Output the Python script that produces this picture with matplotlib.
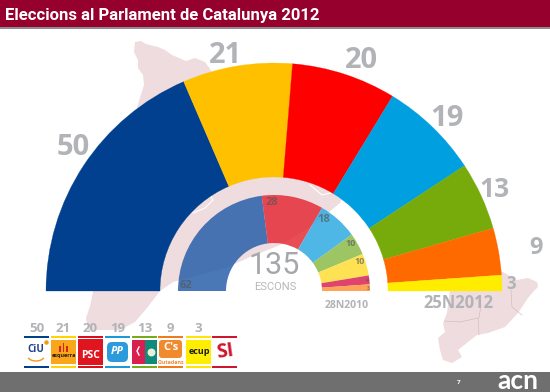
import matplotlib
matplotlib.use("Agg")
import matplotlib.pyplot as plt
from matplotlib.patches import Wedge, Polygon, Rectangle, FancyBboxPatch, Arc

# seats
seats_2012 = [50, 21, 20, 19, 13, 9, 3]
colors_2012 = ["#00408f", "#ffc000", "#ff0000", "#009fdf", "#76ab0b", "#ff6a00", "#ffed00"]
seats_2010 = [62, 28, 18, 10, 10, 4, 3]
colors_2010 = ["#2a60ab", "#e52c37", "#2fabe2", "#8cbb48", "#ffdd35", "#d82452", "#ff9438"]
logo_seats = ["50", "21", "20", "19", "13", "9", "3", ""]
logo_bars = ["#00408f", "#ffd400", "#d8101c", "#1c9ad6", "#76ab1b", "#f07a1c", "#ffe600", "#cf1530"]

total = 135
cx, cy = 274, 291
grey = "#b1b3b7"
font = "Open Sans"

# background map
map_left = [(135, 42), (141, 41), (146, 44), (158, 47), (165, 50), (172, 55), (186, 61), (195, 58),
            (205, 62), (212, 72), (260, 110), (345, 190), (340, 203), (317, 222), (297, 235), (280, 245),
            (250, 257), (226, 268), (173, 282), (160, 291), (147, 308), (135, 322), (120, 330), (88, 330),
            (86, 318), (90, 306), (93, 292), (110, 200), (139, 101), (144, 85), (143, 75), (138, 68),
            (138, 60), (134, 52)]
map_right = [(460, 270), (503, 272), (517, 280), (528, 278), (537, 282), (538, 287), (533, 292), (528, 298),
             (518, 313), (505, 327), (488, 333), (477, 335), (468, 342), (458, 350), (462, 357), (452, 363),
             (443, 360), (440, 350), (438, 338), (445, 332), (443, 323), (447, 313), (448, 305), (450, 290)]
map_lines = [[(445, 321), (460, 322), (478, 318), (479, 335)], [(479, 318), (481, 305)],
             [(511, 290), (512, 307), (522, 315)]]
ring_lines = [[(193, 213), (205, 208), (213, 200), (210, 195)], [(310, 185), (322, 195), (335, 192)]]

fig = plt.figure(figsize=(5.5, 3.92), dpi=100)
ax = fig.add_axes([0, 0, 1, 1])
ax.set_xlim(0, 550)
ax.set_ylim(392, 0)
ax.axis("off")

ax.add_patch(Polygon(map_left, fc="#eedcde", ec="none", zorder=1))
ax.add_patch(Polygon(map_right, fc="#eedcde", ec="none", zorder=1))
for line in map_lines:
    ax.plot([p[0] for p in line], [p[1] for p in line], c="#c9b9bb", lw=0.4, zorder=1.1)
for line in ring_lines:
    ax.plot([p[0] for p in line], [p[1] for p in line], c="white", lw=0.8, zorder=1.2)

# 2012 hemicycle (y axis is flipped, so 180-360 is the upper half)
theta = 180
for v, c in zip(seats_2012, colors_2012):
    ax.add_patch(Wedge((cx, cy), 228, theta, theta + v / total * 180, width=114, fc=c, ec=c, lw=0.2, zorder=2))
    theta += v / total * 180

# 2010 hemicycle
theta = 180
for v, c in zip(seats_2010, colors_2010):
    ax.add_patch(Wedge((cx, cy), 96, theta, theta + v / total * 180, width=48, fc=c, ec="none", alpha=0.85, zorder=2))
    theta += v / total * 180

big_pos = [(73, 147), (226, 55), (361, 60), (447, 118), (494, 189), (536, 248), (511, 284)]
big_size = [21, 21, 21, 21, 19, 17, 12]
for v, p, s in zip(seats_2012, big_pos, big_size):
    ax.text(p[0], p[1], str(v), color=grey, fontsize=s, fontweight="bold", family=font, ha="center", va="center", zorder=3)

small_pos = [(186, 286), (272, 202), (324, 219), (351, 243), (360, 262), (368, 281), (368, 288)]
small_size = [8, 8, 8, 6.5, 6.5, 4, 3.5]
for v, p, s in zip(seats_2010, small_pos, small_size):
    ax.text(p[0], p[1], str(v), color="#555555", alpha=0.65, fontsize=s, fontweight="bold", family=font, ha="center", va="center", zorder=3)

ax.text(274, 265, "135", color="#a5a7ab", fontsize=22, family="Roboto", ha="center", va="center", zorder=3)
ax.text(275, 287.5, "ESCONS", color="#b5b7ba", fontsize=8, family="Roboto", ha="center", va="center", zorder=3)
ax.text(347, 306, "28N2010", color=grey, fontsize=7.5, fontweight="bold", family=font, ha="center", va="center", zorder=3)
ax.text(458, 303, "25N2012", color=grey, fontsize=12, fontweight="bold", family=font, ha="center", va="center", zorder=3)

# header
ax.add_patch(Rectangle((0, 0), 550, 27, fc="#96002d", ec="none", zorder=5))
ax.add_patch(Rectangle((0, 27), 550, 2, fc="#8d8d8d", ec="none", zorder=5))
ax.text(5, 15, "Eleccions al Parlament de Catalunya 2012", color="white", fontsize=12, fontweight="bold", family="Roboto", ha="left", va="center", zorder=6)

# footer
ax.add_patch(Rectangle((0, 372), 550, 20, fc="#6f6f6f", ec="none", zorder=5))
ax.text(459, 383, "7", color="white", fontsize=4.5, fontweight="bold", family=font, ha="center", va="center", zorder=6)
ax.text(517.5, 381, "acn", color="white", fontsize=19, fontweight="bold", family="Lato", ha="center", va="center", zorder=6)

# party logos
logo_x = [24, 51, 78, 105, 132, 158, 186, 212]
for x, v, c in zip(logo_x, logo_seats, logo_bars):
    ax.text(x + 12.5, 329, v, color=grey, fontsize=9.5, fontweight="bold", family=font, ha="center", va="center", zorder=3)
    ax.add_patch(Rectangle((x, 336), 25, 2.3, fc=c, ec="none", zorder=3))
    ax.add_patch(Rectangle((x, 366), 25, 2.3, fc=c, ec="none", zorder=3))


def logo_text(x, y, s, color, size, **kw):
    ax.text(x, y, s, color=color, fontsize=size, fontweight="bold", family=font, ha="center", va="center", zorder=4, **kw)


# CiU
ax.add_patch(Rectangle((24, 339), 25, 26, fc="white", ec="none", zorder=3))
logo_text(35.5, 349, "CiU", "#1c3f8f", 7)
ax.add_patch(Arc((36, 355), 18, 12, theta1=20, theta2=160, ec="#f39a1d", lw=1, zorder=4))
ax.scatter([46], [342], s=5, c="#f39a1d", zorder=4)
# esquerra
ax.add_patch(Rectangle((51, 340), 25, 24, fc="#f9a61a", ec="none", zorder=3))
ax.bar([60, 63.5, 67], [-6, -9, -6], bottom=352, width=1.8, color="#d3261c", zorder=4)
logo_text(63.5, 356, "esquerra", "#2a1a10", 4)
# PSC
ax.add_patch(Rectangle((78, 339), 25, 26, fc="#df1520", ec="none", zorder=3))
logo_text(90.5, 356, "PSC", "white", 7.5)
# PP
ax.add_patch(FancyBboxPatch((107, 342), 21, 20, boxstyle="round,pad=0,rounding_size=5", fc="#2b9bdc", ec="none", zorder=3))
logo_text(117.5, 351, "PP", "white", 8, style="italic")
# ICV
ax.add_patch(Rectangle((132, 340), 12.5, 24, fc="#d81f50", ec="none", zorder=3))
ax.add_patch(Rectangle((144.5, 340), 12.5, 24, fc="#0f8a7b", ec="none", zorder=3))
ax.plot([139, 137, 139], [347, 351, 355], c="white", lw=1, zorder=4)
ax.scatter([150.5], [352], s=22, c="#e8f0d8", zorder=4)
# C's
ax.add_patch(FancyBboxPatch((159, 340), 23, 18, boxstyle="round,pad=0,rounding_size=3", fc="#f08a2c", ec="none", zorder=3))
logo_text(171, 348, "C's", "white", 8)
logo_text(171, 362, "Ciutadans", "#f08a2c", 3.8)
# CUP
ax.add_patch(Rectangle((186, 340), 25, 24, fc="#ffee00", ec="none", zorder=3))
logo_text(199, 352, "ecup", "#1a1a1a", 6.5)
# SI
ax.add_patch(Rectangle((212, 339), 25, 26, fc="white", ec="none", zorder=3))
logo_text(224.5, 352, "SI", "#cf1530", 14, rotation=8)

fig.savefig("out.png", dpi=100)
